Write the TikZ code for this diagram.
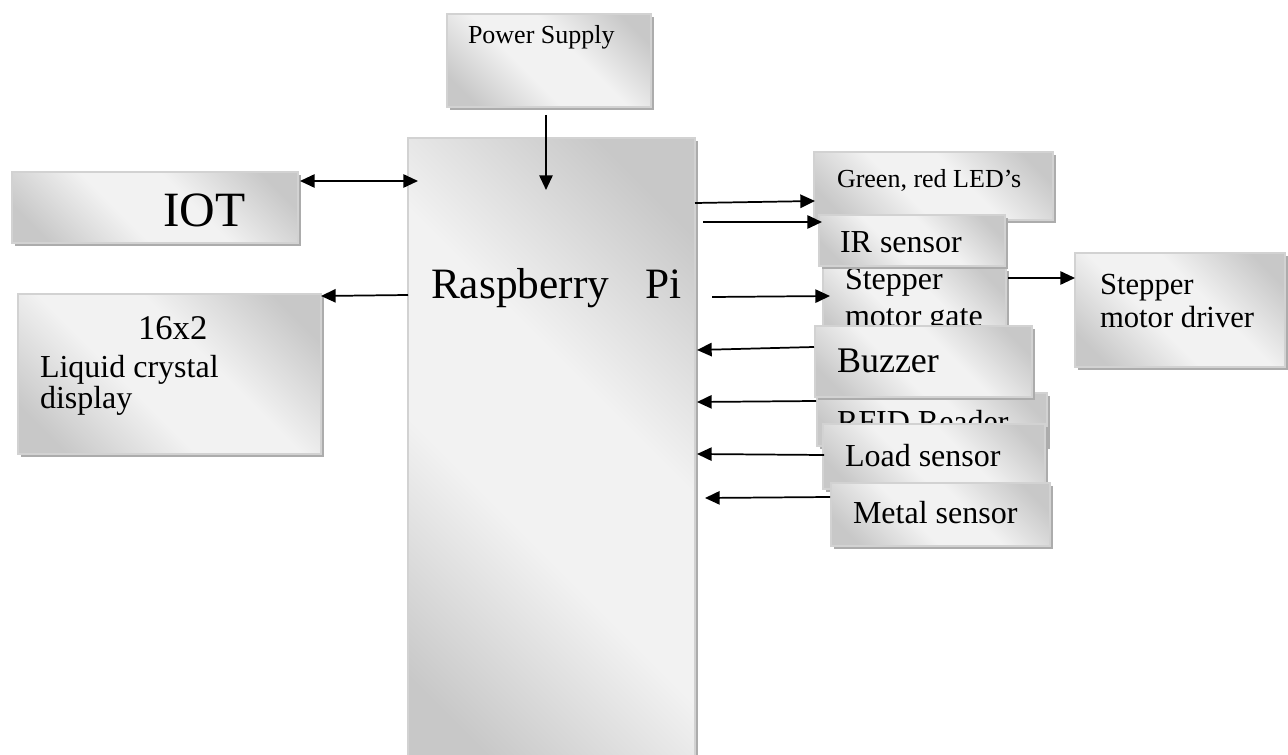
\documentclass[tikz,border=0pt]{standalone}
\usepackage{fontspec}
\setmainfont{Liberation Serif}
\usetikzlibrary{arrows.meta,calc,fit}

\definecolor{shA}{HTML}{C8C8C8}
\definecolor{shB}{HTML}{F2F2F2}
\pgfdeclareverticalshading{boxsh}{100bp}{color(0bp)=(shA); color(22bp)=(shA); color(42bp)=(shB); color(58bp)=(shB); color(78bp)=(shA); color(100bp)=(shA)}

\tikzset{
  blk/.style={draw=gray!35, line width=0.9pt, inner sep=0pt, outer sep=0pt,
    shading=boxsh, shading angle=-45},
  shd/.style={fill=gray!65},
  txt/.style={anchor=base west, inner sep=0pt, outer sep=0pt},
  arr/.style={line width=1.3pt, -{Triangle[length=11pt,width=10pt]}},
  darr/.style={line width=1.3pt, {Triangle[length=11pt,width=10pt]}-{Triangle[length=11pt,width=10pt]}},
}

\newcommand{\blkbox}[5]{%
  \fill[shd] (#2+3,#3+3) rectangle (#4+3,#5+3);
  \node[blk, fit={(#2,#3) (#4,#5)}] (#1) {};
}

\begin{document}
\begin{tikzpicture}[x=0.75pt,y=-0.75pt]
\useasboundingbox (0,0) rectangle (1288,755);

% Power supply
\blkbox{ps}{447}{14}{651}{107}
\node[txt, font=\fontsize{19.5}{23}\selectfont] (pst) at (468,44) {Power Supply};

% Raspberry Pi
\blkbox{pi}{408}{138}{695}{775}
\node[txt, font=\fontsize{32.5}{37}\selectfont] (pit) at (431,299) {Raspberry\hspace{27pt}Pi};

% IOT
\blkbox{iot}{12}{172}{298}{243}
\node[txt, font=\fontsize{37}{42}\selectfont] (iott) at (163,227) {IOT};

% LCD
\blkbox{lcd}{18}{294}{321}{454}
\node[txt, font=\fontsize{26}{30}\selectfont] (lcdt1) at (138,340) {16x2};
\node[txt, font=\fontsize{24}{28}\selectfont] (lcdt2) at (40,378) {Liquid crystal};
\node[txt, font=\fontsize{24}{28}\selectfont] (lcdt3) at (40,408) {display};

% LEDs
\blkbox{led}{814}{152}{1053}{220}
\node[txt, font=\fontsize{19.5}{23}\selectfont] (ledt) at (837,188) {Green, red LED’s};

% Stepper motor gate
\blkbox{gate}{823}{268}{1006}{345}
\node[txt, font=\fontsize{24}{28}\selectfont] (gatet1) at (845,290) {Stepper};
\node[txt, font=\fontsize{24}{28}\selectfont] (gatet2) at (845,327) {motor gate};

% IR sensor
\blkbox{ir}{819}{215}{1005}{266}
\node[txt, font=\fontsize{24}{28}\selectfont] (irt) at (840,253) {IR sensor};

% RFID reader
\blkbox{rfid}{817}{393}{1047}{446}
\node[txt, font=\fontsize{24}{28}\selectfont] (rfidt) at (837,432) {RFID Reader};

% Buzzer
\blkbox{buzz}{815}{326}{1032}{397}
\node[txt, font=\fontsize{27}{31}\selectfont] (buzzt) at (837,373) {Buzzer};

% Load sensor
\blkbox{load}{823}{424}{1045}{489}
\node[txt, font=\fontsize{24}{28}\selectfont] (loadt) at (845,466) {Load sensor};

% Metal sensor
\blkbox{metal}{831}{483}{1050}{546}
\node[txt, font=\fontsize{24}{28}\selectfont] (metalt) at (853,523) {Metal sensor};

% Stepper motor driver
\blkbox{drv}{1075}{253}{1285}{367}
\node[txt, font=\fontsize{23}{27}\selectfont] (drvt1) at (1100,295) {Stepper};
\node[txt, font=\fontsize{23}{27}\selectfont] (drvt2) at (1100,328) {motor driver};

% connectors
\draw[arr] ($(ps.south)+(-3,8)$) -- ($(pi.north)+(-5.5,52)$);
\draw[darr] ($(iot.north east)+(2,9)$) -- ($(pi.north west)+(10,43)$);
\draw[arr] ($(pi.north west)+(0,157)$) -- ($(lcd.north east)+(0,2)$);
\draw[arr] ($(pi.north east)+(0,65)$) -- ($(led.north west)+(1,49)$);
\draw[arr] ($(pi.north east)+(8,84)$) -- ($(ir.north west)+(3,7)$);
\draw[arr] ($(pi.north east)+(17,159)$) -- ($(gate.north west)+(7,28)$);
\draw[arr] ($(buzz.north west)+(-1,21)$) -- ($(pi.north east)+(2,212)$);
\draw[arr] ($(rfid.north west)+(-1,8)$) -- ($(pi.north east)+(2,264)$);
\draw[arr] ($(load.north west)+(1,31)$) -- ($(pi.north east)+(2,316)$);
\draw[arr] ($(metal.north west)+(-1,14)$) -- ($(pi.north east)+(10,360)$);
\draw[arr] ($(gate.north east)+(2,10)$) -- ($(drv.north west)+(0,25)$);
\end{tikzpicture}
\end{document}
